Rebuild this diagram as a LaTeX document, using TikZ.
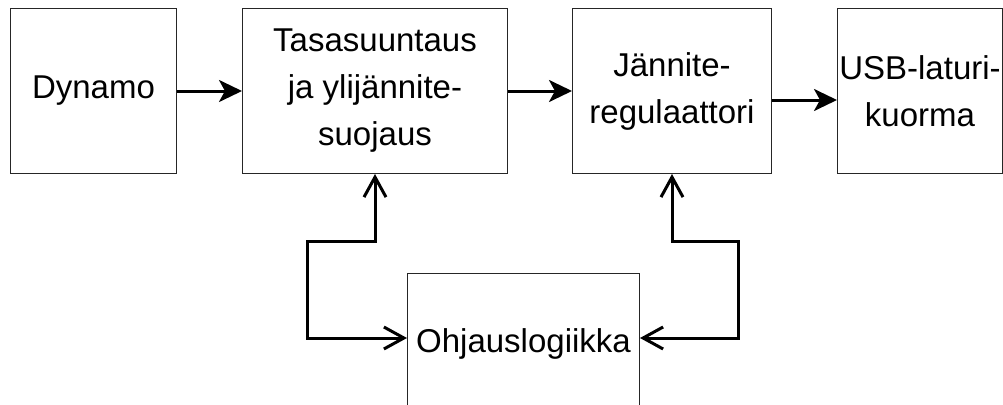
\documentclass[tikz,border=0pt]{standalone}
\usepackage{fontspec}
\setmainfont{Liberation Sans}
\usetikzlibrary{arrows.meta,calc}
\begin{document}
\begin{tikzpicture}[x=1pt,y=-1pt,
  box/.style={draw=black!85, line width=1pt, fill=white, inner sep=0pt,
    anchor=north west, align=center, font=\fontsize{33}{47}\selectfont},
  flow/.style={line width=3pt, -{Stealth[length=23pt,width=22pt,inset=6pt]}},
  ctl/.style={line width=3pt,
    {Straight Barb[length=20pt,width=22pt]}-{Straight Barb[length=20pt,width=22pt]}}]
\useasboundingbox (0,0) rectangle (1003,404);
\clip (0,0) rectangle (1003,404);

\node[box, minimum width=166pt, minimum height=165pt] (dyn) at (10,8) {Dynamo};
\node[box, minimum width=265pt, minimum height=165pt] (tas) at (242,8) {Tasasuuntaus\\ja ylijännite-\\suojaus};
\node[box, minimum width=199pt, minimum height=165pt] (reg) at (572,8) {Jännite-\\regulaattori};
\node[box, minimum width=165pt, minimum height=165pt] (usb) at (837,8) {USB-laturi-\\kuorma};
\node[box, minimum width=232pt, minimum height=165pt, text height=79pt, text depth=86pt] (ctrl) at (407,273) {Ohjauslogiikka};

\coordinate (cl) at ($(ctrl.north west)+(0,65)$);
\coordinate (cr) at ($(ctrl.north east)+(0,65)$);

\draw[flow] (dyn.east) -- (tas.west);
\draw[flow] (tas.east) -- (reg.west);
\draw[flow] (reg.east |- 0,100) -- (usb.west |- 0,100);

\draw[ctl] (tas.south) |- (307,241) |- (cl);
\draw[ctl] (reg.south) |- (738,241) |- (cr);
\end{tikzpicture}
\end{document}
